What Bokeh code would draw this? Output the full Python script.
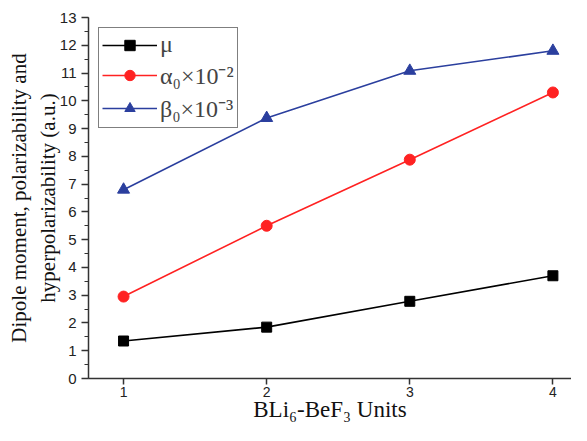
from bokeh.plotting import figure
from bokeh.models import Range1d, SingleIntervalTicker, FixedTicker, Legend, LegendItem
from bokeh.embed import file_html
from bokeh.resources import INLINE

units = [1, 2, 3, 4]
mu = [1.35, 1.85, 2.78, 3.70]
alpha = [2.95, 5.50, 7.88, 10.30]
beta = [6.80, 9.38, 11.08, 11.80]
labels = ["\u03bc", "\u03b1\u2080\u00d710\u207b\u00b2", "\u03b2\u2080\u00d710\u207b\u00b3"]

p = figure(width=571, height=425, output_backend="svg", toolbar_location=None,
           x_range=Range1d(0.755, 4.13), y_range=Range1d(0, 13),
           min_border_left=88, min_border_right=0, min_border_top=17, min_border_bottom=47)
p.outline_line_color = None
p.xgrid.visible = False
p.ygrid.visible = False
p.background_fill_color = "white"

serif = "Liberation Serif"
sans = "Liberation Sans"

p.xaxis.ticker = FixedTicker(ticks=units)
p.yaxis.ticker = SingleIntervalTicker(interval=1, num_minor_ticks=2)
for ax in (p.xaxis[0], p.yaxis[0]):
    ax.axis_line_color = "#333333"
    ax.axis_line_width = 1.5
    ax.major_tick_line_color = "#333333"
    ax.major_tick_line_width = 1.5
    ax.minor_tick_line_color = "#333333"
    ax.minor_tick_line_width = 1.2
    ax.major_tick_out = 7
    ax.major_tick_in = 0
    ax.minor_tick_out = 4
    ax.minor_tick_in = 0
    ax.major_label_text_font = sans
    ax.major_label_text_color = "#222222"
    ax.axis_label_text_font = serif
    ax.axis_label_text_font_style = "normal"
    ax.axis_label_text_color = "#111111"
p.xaxis.minor_tick_line_color = None
p.xaxis.major_tick_out = 6
p.xaxis.major_label_text_font_size = "14px"
p.xaxis.major_label_standoff = 2
p.xaxis.axis_label = "BLi\u2086-BeF\u2083 Units"
p.xaxis.axis_label_text_font_size = "23px"
p.xaxis.axis_label_standoff = -3
p.yaxis.major_label_text_font_size = "15px"
p.yaxis.major_label_standoff = 5
p.yaxis.axis_label = "Dipole moment, polarizability and\nhyperpolarizability (a.u.)"
p.yaxis.axis_label_text_font_size = "21px"
p.yaxis.axis_label_standoff = -3

blue = "#2b3f9e"
red = "#ff2222"
l1 = p.line(units, mu, line_color="black", line_width=1.6)
m1 = p.scatter(units, mu, marker="square", size=10, fill_color="black", line_color="black")
l2 = p.line(units, alpha, line_color=red, line_width=1.6)
m2 = p.scatter(units, alpha, marker="circle", size=11, fill_color=red, line_color=red)
l3 = p.line(units, beta, line_color=blue, line_width=1.6)
m3 = p.scatter(units, beta, marker="triangle", size=12, fill_color=blue, line_color=blue)

legend = Legend(items=[LegendItem(label=labels[0], renderers=[l1, m1]),
                       LegendItem(label=labels[1], renderers=[l2, m2]),
                       LegendItem(label=labels[2], renderers=[l3, m3])],
                location="top_left")
legend.border_line_color = "black"
legend.border_line_width = 1.5
legend.label_text_font = serif
legend.label_text_font_size = "24px"
legend.glyph_width = 55
legend.glyph_height = 26
legend.label_height = 26
legend.spacing = 0
legend.padding = 3
legend.margin = 10
legend.label_standoff = 3
legend.background_fill_alpha = 1
p.add_layout(legend, "center")

open("out.html", "w").write(file_html(p, INLINE))
